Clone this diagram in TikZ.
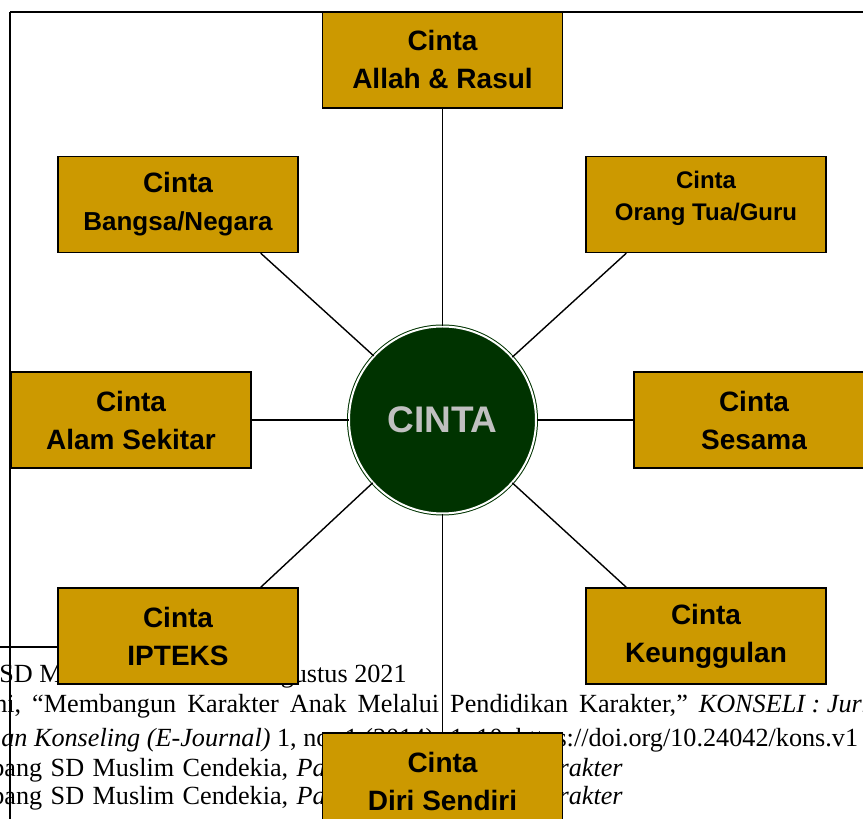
\documentclass[tikz,border=0pt]{standalone}
\usepackage{fontspec}
\setmainfont{Liberation Serif}
\setsansfont{Liberation Sans}
\usepackage{xcolor}
\usepackage{tikz}
\usetikzlibrary{arrows}
\usetikzlibrary{calc}
\usetikzlibrary{positioning}
\definecolor{emas}{RGB}{204,153,0}
\definecolor{hijau}{RGB}{0,51,0}
\definecolor{abu}{RGB}{192,192,192}

\begin{document}
\begin{tikzpicture}[x=1pt,y=1pt,-,on grid,semithick]
  \tikzstyle{kotak}=[rectangle, draw=black, line width=1.3pt, fill=emas, text=black, minimum width=240pt, minimum height=96pt, inner sep=0pt, align=center, font=\sffamily\bfseries\fontsize{28}{38}\selectfont]
  \tikzstyle{bulat}=[circle, draw=hijau, fill=hijau, double=white, double distance=2pt, line width=1pt, minimum size=187pt, inner sep=0pt, text=abu, font=\sffamily\bfseries\fontsize{37}{40}\selectfont]
  \tikzstyle{naskah}=[inner sep=0pt, font=\fontsize{26.2}{30}\selectfont]
  \tikzstyle{garis}=[draw=black, line width=1.4pt]

  \clip (0,0) rectangle (863,819);
  % teks halaman di belakang bagan
  \node[naskah, anchor=base west] (t1) at (-1,136) {SD Muslim};
  \node[naskah, anchor=base east] (t1b) at (407,136) {Agustus 2021};
  \node[naskah, anchor=base west] (t2) at (-6,106) {\spaceskip=11pt ni, “Membangun Karakter Anak Melalui Pendidikan Karakter,” {\spaceskip=0pt\textit{KONSELI : Jurnal}}};
  \node[naskah, anchor=base west] (t3) at (1,72) {\textit{an Konseling (E-Journal)} 1, no. 1 (2014): 1–10, https://doi.org/10.24042/kons.v1};
  \node[naskah, anchor=base west] (t4) at (-9,42) {\spaceskip=8.5pt bang SD Muslim Cendekia, \textit{Pa}};
  \node[naskah, anchor=base east] (t4b) at (623,42) {\textit{Karakter}};
  \node[naskah, anchor=base west] (t5) at (-9,14) {\spaceskip=8.5pt bang SD Muslim Cendekia, \textit{Pa}};
  \node[naskah, anchor=base east] (t5b) at (623,14) {\textit{Karakter}};

  % garis bingkai
  \draw[garis] (10,807) -- (863,807) (10,807) -- (10,0) (0,172) -- (60,172);

  % bagan
  \node[bulat] (pusat) at (442.5,399) {CINTA};
  \node[kotak] (allah)  [above=360pt of pusat] {Cinta\\Allah \& Rasul};
  \node[kotak] (bangsa) [above left=215.5pt and 264.5pt of pusat] {Cinta\\\fontsize{26}{38}\selectfont Bangsa/Negara};
  \node[kotak, font=\sffamily\bfseries\fontsize{24}{32}\selectfont, text depth=17pt] (ortu) [above right=215.5pt and 263.5pt of pusat] {Cinta\\Orang Tua/Guru};
  \node[kotak] (alam)   [left=311.5pt of pusat] {Cinta\\Alam Sekitar};
  \node[kotak] (sesama) [right=311.5pt of pusat] {Cinta\\Sesama};
  \node[kotak] (iptek)  [below left=216pt and 264.5pt of pusat] {Cinta\\IPTEKS};
  \node[kotak] (unggul) [below right=216pt and 263.5pt of pusat] {Cinta\\Keunggulan};
  \node[kotak] (diri)   [below=361pt of pusat] {Cinta\\Diri Sendiri};

  \path[garis] (pusat) edge (allah)
               (pusat) edge (alam)
               (pusat) edge (sesama)
               (pusat) edge (diri)
               (pusat.137.5) edge ([xshift=-38pt]bangsa.south east)
               (pusat.42.5) edge ([xshift=41pt]ortu.south west)
               (pusat.222.5) edge ([xshift=-38pt]iptek.north east)
               (pusat.-42.5) edge ([xshift=41pt]unggul.north west);
\end{tikzpicture}
\end{document}
